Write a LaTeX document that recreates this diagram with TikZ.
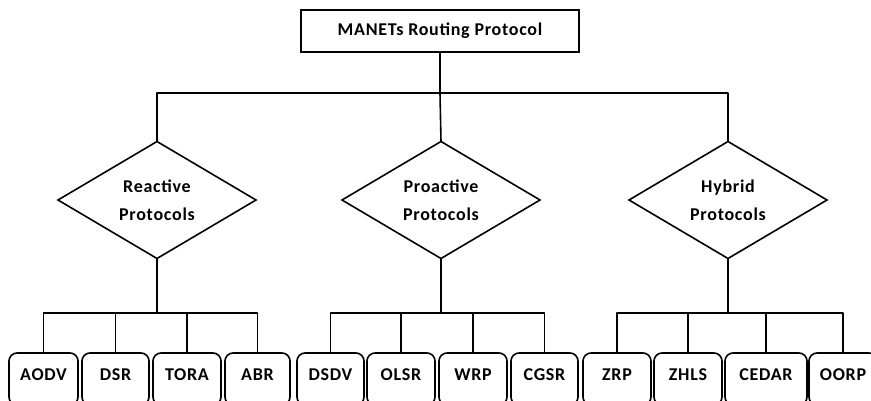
\documentclass[tikz,border=0pt]{standalone}
\usepackage{fontspec}
\setmainfont{Carlito}[LetterSpace=4]
\usetikzlibrary{shapes.geometric}

\begin{document}
\begin{tikzpicture}[x=1pt, y=-1pt,
  every node/.style={font=\fontsize{18}{28}\selectfont\bfseries, inner sep=0pt, outer sep=0pt},
  wire/.style={line width=1.6pt, line join=round},
  rootbox/.style={draw, line width=1.6pt, minimum width=278pt, minimum height=42pt},
  family/.style={draw, diamond, line width=1.6pt, minimum width=198pt, minimum height=117pt, align=center},
  leaf/.style={draw, line width=1.6pt, rounded corners=8pt, anchor=north, minimum height=52pt, text height=12pt, text depth=10pt}]
\useasboundingbox (0,0) rectangle (871,401);
\clip (0,0) rectangle (871,401);

% root of the tree
\node[rootbox] (root) at (440,31) {MANETs Routing Protocol};

% the three protocol families
\node[family] (rea) at (157,200) {Reactive\\Protocols};
\node[family] (pro) at (441,200) {Proactive\\Protocols};
\node[family] (hyb) at (728,200) {Hybrid\\Protocols};

% individual protocols
\node[leaf, minimum width=69pt] (aodv)  at (43.5,353)  {AODV};
\node[leaf, minimum width=67pt] (dsr)   at (115.5,353) {DSR};
\node[leaf, minimum width=68pt] (tora)  at (187,353)   {TORA};
\node[leaf, minimum width=65pt] (abr)   at (257.5,353) {ABR};
\node[leaf, minimum width=67pt] (dsdv)  at (330.5,353) {DSDV};
\node[leaf, minimum width=68pt] (olsr)  at (401,353)   {OLSR};
\node[leaf, minimum width=68pt] (wrp)   at (473,353)   {WRP};
\node[leaf, minimum width=67pt] (cgsr)  at (544.5,353) {CGSR};
\node[leaf, minimum width=68pt] (zrp)   at (617,353)   {ZRP};
\node[leaf, minimum width=68pt] (zhls)  at (688,353)   {ZHLS};
\node[leaf, minimum width=82pt] (cedar) at (766,353)   {CEDAR};
\node[leaf, minimum width=68pt] (oorp)  at (843,353)   {OORP};

% root to families
\draw[wire] (root.south) -- ++(0,41) coordinate (bus);
\draw[wire] (bus) -| (rea.north);
\draw[wire] (bus) -| (hyb.north);
\draw[wire] (bus) -- (pro.north);

% families to protocols
\foreach \fam/\kids in {rea/{aodv,dsr,tora,abr}, pro/{dsdv,olsr,wrp,cgsr}, hyb/{zrp,zhls,cedar,oorp}} {
  \draw[wire] (\fam.south) -- ++(0,54.5) coordinate (\fam-bus);
  \foreach \k in \kids {
    \draw[wire] (\fam-bus) -| (\k.north);
  }
}
\end{tikzpicture}
\end{document}
